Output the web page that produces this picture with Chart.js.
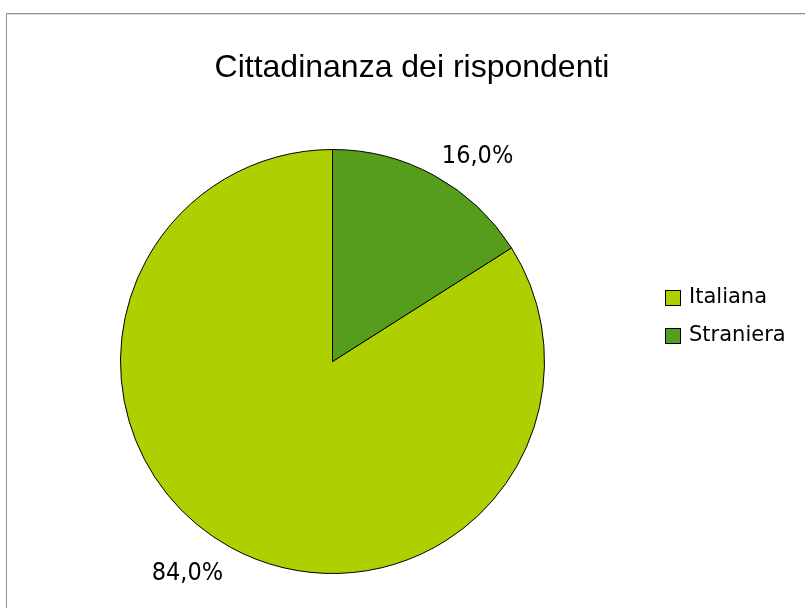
<!DOCTYPE html>
<html>
<head>
<meta charset="utf-8">
<script src="https://cdn.jsdelivr.net/npm/chart.js@4/dist/chart.umd.min.js"></script>
<style>
  html, body { margin: 0; padding: 0; background: #fff; }
  #wrap { width: 805px; height: 608px; position: relative; }
</style>
</head>
<body>
<div id="wrap"><canvas id="c" width="805" height="608"></canvas></div>
<script>
var titleText = 'Cittadinanza dei rispondenti';
var categories = ['Italiana', 'Straniera'];
var shares = [84.0, 16.0];
var sliceColors = ['#aecf00', '#579d1c'];

// percent labels outside the slices, the legend and the frame lines
var decorations = {
  id: 'decorations',
  afterDraw: function(chart) {
    var ctx = chart.ctx;
    ctx.save();

    // frame
    ctx.strokeStyle = '#8e8e8e';
    ctx.lineWidth = 1;
    ctx.beginPath();
    ctx.moveTo(6.5, 608);
    ctx.lineTo(6.5, 13.5);
    ctx.lineTo(805, 13.5);
    ctx.stroke();
    ctx.strokeStyle = '#dcdcdc';
    ctx.beginPath();
    ctx.moveTo(7, 14.5);
    ctx.lineTo(805, 14.5);
    ctx.stroke();

    // title
    ctx.fillStyle = '#000';
    ctx.font = '32px "Liberation Sans", Arial, sans-serif';
    ctx.textAlign = 'center';
    ctx.textBaseline = 'alphabetic';
    ctx.fillText(titleText, 412, 77);

    // value labels
    var meta = chart.getDatasetMeta(0);
    var total = shares.reduce(function(a, b) { return a + b; }, 0);
    ctx.font = '25px "DejaVu Sans Condensed", "DejaVu Sans", sans-serif';
    meta.data.forEach(function(arc, i) {
      var p = arc.getProps(['x', 'y', 'startAngle', 'endAngle', 'outerRadius'], true);
      var mid = (p.startAngle + p.endAngle) / 2;
      var r = p.outerRadius + 15;
      var lx = p.x + Math.cos(mid) * r;
      var ly = p.y + Math.sin(mid) * r;
      var txt = (shares[i] / total * 100).toFixed(1).replace('.', ',') + '%';
      ctx.textAlign = lx >= p.x ? 'left' : 'right';
      ctx.textBaseline = 'alphabetic';
      ctx.fillText(txt, lx, ly < p.y ? ly : ly + 20);
    });

    // legend
    ctx.font = '21px "DejaVu Sans", sans-serif';
    ctx.textAlign = 'left';
    ctx.textBaseline = 'middle';
    categories.forEach(function(name, i) {
      var y = 290 + i * 38;
      ctx.fillStyle = sliceColors[i];
      ctx.fillRect(665, y, 15, 15);
      ctx.strokeStyle = '#000';
      ctx.strokeRect(665.5, y + 0.5, 15, 15);
      ctx.fillStyle = '#000';
      ctx.fillText(name, 689, y + 8);
    });

    ctx.restore();
  }
};

new Chart(document.getElementById('c'), {
  type: 'pie',
  data: {
    labels: categories,
    datasets: [{
      data: shares,
      backgroundColor: sliceColors,
      borderColor: '#000',
      borderWidth: 1
    }]
  },
  options: {
    responsive: false,
    animation: false,
    rotation: shares[1] / 100 * 360,
    layout: { padding: { left: 120, top: 149, right: 260, bottom: 34 } },
    plugins: {
      legend: { display: false },
      title: { display: false },
      tooltip: { enabled: false }
    }
  },
  plugins: [decorations]
});
</script>
</body>
</html>
